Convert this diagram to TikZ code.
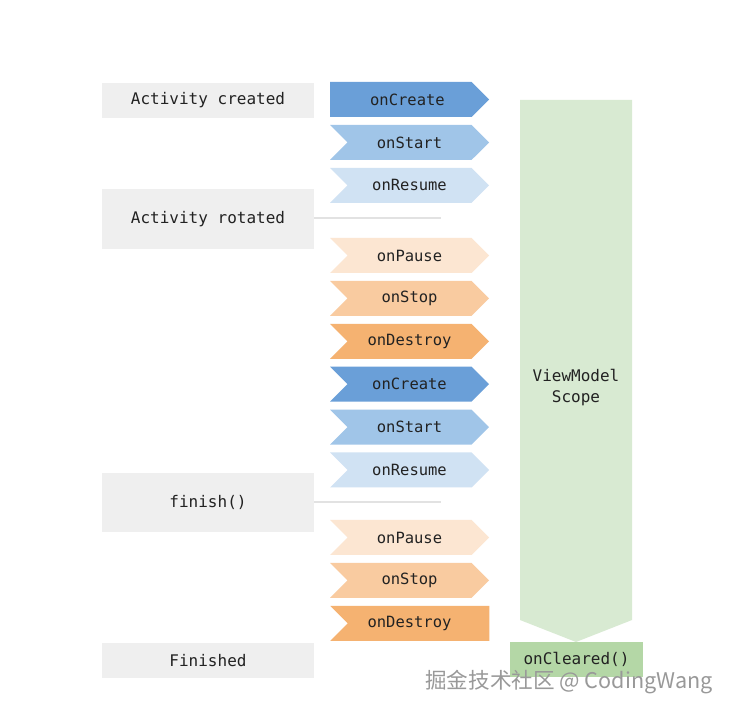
\documentclass[tikz,border=0pt]{standalone}
\usepackage{fontspec}
\setmonofont{DejaVu Sans Mono}
\newfontfamily\cjk{Noto Sans CJK SC}
\usepackage{xcolor}
\usepackage{tikz}
\usetikzlibrary{shapes.symbols,positioning}

\definecolor{stategray}{HTML}{EFEFEF}
\definecolor{inkgray}{HTML}{222222}
\definecolor{linegray}{HTML}{E2E2E2}
\definecolor{createblue}{HTML}{6A9FD8}
\definecolor{startblue}{HTML}{A0C5E8}
\definecolor{resumeblue}{HTML}{D0E2F3}
\definecolor{pauseorange}{HTML}{FCE6D2}
\definecolor{stoporange}{HTML}{F9CBA0}
\definecolor{destroyorange}{HTML}{F5B271}
\definecolor{scopegreen}{HTML}{D8EAD2}
\definecolor{clearedgreen}{HTML}{B4D7A6}

\begin{document}
\begin{tikzpicture}[
  x=1pt, y=1pt,
  node distance=7.5pt,
  state/.style={rectangle, fill=stategray, minimum width=212pt, inner sep=0pt, font=\ttfamily\fontsize{16}{19}\selectfont, text=inkgray},
  hook/.style={signal, signal to=east, signal from=west, signal pointer angle=90, minimum width=159pt, minimum height=35pt, inner sep=0pt, font=\ttfamily\fontsize{15.5}{18}\selectfont, text=inkgray},
  sep/.style={draw=linegray, line width=1.2pt}
]
\fill[white] (0,0) rectangle (731,710);
\useasboundingbox (0,0) rectangle (731,710);

% activity states
\node[state, minimum height=35pt] (created) at (208,609.5) {Activity created};
\node[state, minimum height=60pt] (rotated) at (208,491) {Activity rotated};
\node[state, minimum height=59pt] (finish) at (208,207.5) {finish()};
\node[state, minimum height=35pt] (finished) at (208,49.5) {Finished};

% lifecycle callbacks
\node[hook, fill=createblue, signal from=nowhere, anchor=west] (create1) at (330,610.5) {\hspace*{13pt}onCreate};
\node[hook, fill=startblue] (start1) at (409.5,567.5) {onStart};
\node[hook, fill=resumeblue, below=of start1] (resume1) {onResume};

\node[hook, fill=pauseorange] (pause1) at (409.5,454.5) {onPause};
\node[hook, fill=stoporange, below=of pause1] (stop1) {onStop};
\node[hook, fill=destroyorange, below=of stop1] (destroy1) {onDestroy};
\node[hook, fill=createblue, below=of destroy1] (create2) {onCreate};
\node[hook, fill=startblue, below=of create2] (start2) {onStart};
\node[hook, fill=resumeblue, below=of start2] (resume2) {onResume};

\node[hook, fill=pauseorange] (pause2) at (409.5,172.5) {onPause};
\node[hook, fill=stoporange, below=of pause2] (stop2) {onStop};
\node[hook, fill=destroyorange, below=of stop2, xshift=9pt, signal to=nowhere] (destroy2) {onDestroy\hspace*{18pt}};

% separators
\coordinate (rotEnd) at (441,492);
\coordinate (finEnd) at (441,208);
\draw[sep] (rotated.east |- rotEnd) -- (rotEnd);
\draw[sep] (finish.east |- finEnd) -- (finEnd);

% viewmodel scope
\fill[scopegreen] (520,610) -- (632,610) -- (632,90) -- (576,68) -- (520,90) -- cycle;
\node[align=center, font=\ttfamily\fontsize{16}{21}\selectfont, text=inkgray] (scope) at (576,322) {ViewModel\\Scope};
\node[rectangle, fill=clearedgreen, minimum width=133pt, minimum height=35pt, inner sep=0pt, font=\ttfamily\fontsize{16}{19}\selectfont, text=inkgray] (cleared) at (576.5,50.5) {onCleared()};

% watermark
\node[anchor=base west, inner sep=0pt, font=\cjk\fontsize{21.6}{24}\selectfont, text=gray!80] (mark) at (425,22) {掘金技术社区 @ CodingWang};
\end{tikzpicture}
\end{document}
